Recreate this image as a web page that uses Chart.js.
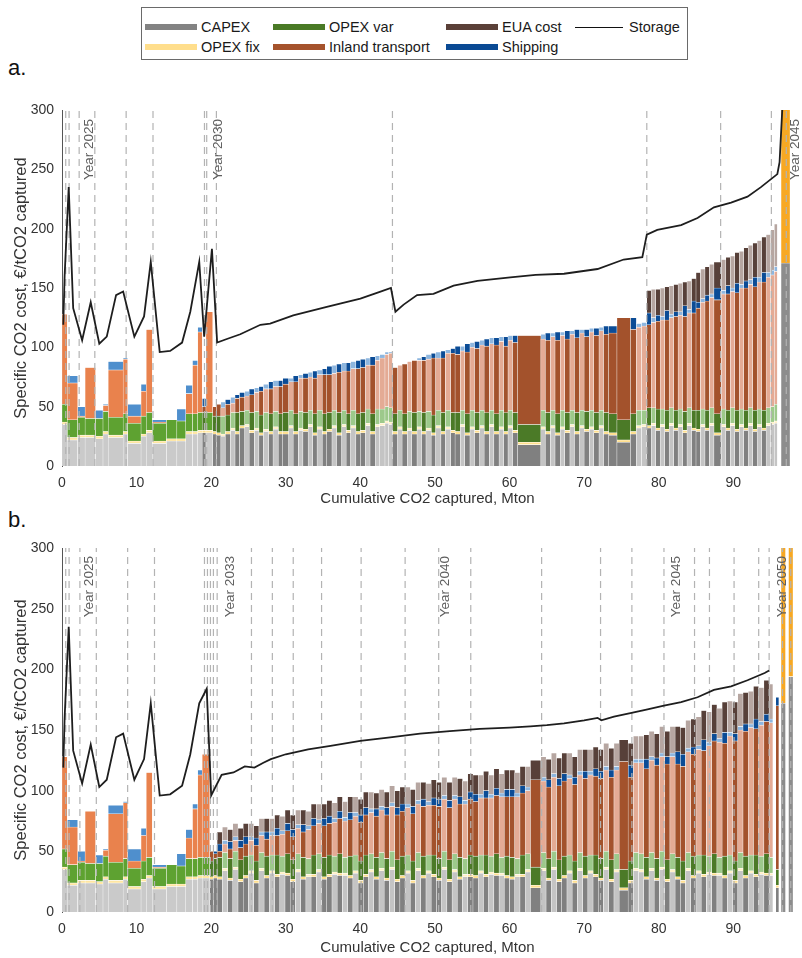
<!DOCTYPE html>
<html><head><meta charset="utf-8">
<script src="https://cdn.jsdelivr.net/npm/chart.js@4.4.1/dist/chart.umd.min.js"></script>
<style>
html,body{margin:0;padding:0;background:#fff;width:802px;height:958px;overflow:hidden;font-family:"Liberation Sans",Arial,sans-serif;}
#legend{position:absolute;left:141px;top:7px;width:547px;height:53px;border:1px solid #6a6a6a;box-sizing:border-box;background:#fff;}
.it{position:absolute;display:flex;align-items:center;height:16px;font-size:14.5px;color:#1a1a1a;white-space:nowrap;}
.sw{display:inline-block;width:52px;height:6px;margin-right:4px;}
.ln{display:inline-block;width:48px;height:0;border-top:1px solid #111;margin-right:6px;}
.plab{position:absolute;left:8px;font-size:22px;color:#111;}
#wa{position:absolute;left:0;top:90px;width:802px;height:420px;}
#wb{position:absolute;left:0;top:528px;width:802px;height:430px;}
</style></head>
<body>
<div id="legend">
 <div class="it" style="left:3px;top:11px"><span class="sw" style="background:#838383"></span>CAPEX</div>
 <div class="it" style="left:131px;top:11px"><span class="sw" style="background:#4a7a26"></span>OPEX var</div>
 <div class="it" style="left:304px;top:11px"><span class="sw" style="background:#5a4038"></span>EUA cost</div>
 <div class="it" style="left:433px;top:11px"><span class="ln"></span>Storage</div>
 <div class="it" style="left:3px;top:31px"><span class="sw" style="background:#ffde8c"></span>OPEX fix</div>
 <div class="it" style="left:131px;top:31px"><span class="sw" style="background:#a5532c"></span>Inland transport</div>
 <div class="it" style="left:304px;top:31px"><span class="sw" style="background:#0a4a94"></span>Shipping</div>
</div>
<div class="plab" style="top:55px">a.</div>
<div class="plab" style="top:507px">b.</div>
<div id="wa"><canvas id="ca" width="802" height="420"></canvas></div>
<div id="wb"><canvas id="cb" width="802" height="430"></canvas></div>
<script>
// ---------------- Panel a data ----------------
const aWidth = [0.7,1.4,1.0,1.4,1.0,0.7,2.0,0.6,1.8,0.7,0.8,1.9,1.4,1.2,0.9,0.7,0.6,0.5,0.9,0.5,
 0.6,0.6,0.7,0.6,0.6,0.7,0.6,0.7,0.6,0.6,0.7,0.6,0.7,0.6,0.8,0.6,0.7,0.6,0.7,0.6,
 0.6,0.7,0.6,0.7,0.6,0.7,0.6,0.6,0.7,0.6,0.7,0.6,0.7,0.6,0.7,0.5,0.5,
 0.7,0.6,0.7,0.6,0.7,0.6,0.6,0.7,0.6,0.7,0.6,0.7,0.6,0.7,0.6,0.7,0.6,0.7,0.6,0.7,0.6,0.7,0.6,0.6,0.6,0.7,
 3.1,
 0.6,0.7,0.6,0.7,0.6,0.7,0.6,0.7,0.6,0.7,0.6,0.7,0.6,0.7,1.1,1.8,0.8,0.7,0.7,
 0.6,0.6,0.6,0.6,0.6,0.6,0.6,0.6,0.6,0.6,0.6,0.6,0.6,0.6,0.6,
 1.0,
 0.6,0.6,0.6,0.6,0.6,0.6,0.6,0.6,0.6,0.6,0.6,
 0.5,0.4,0.5,1.2];
const aGroup = ("mmmmmmmmmmmmmmmmmdmd" + "dldlddldldldlddldldl" + "dlddldldlddldllll" +
 "dldldldldldld" + "dldldldldldld" + "d" + "ldldldldldldlddddll" +
 "dldldldldlddldl" + "d" + "ldldldldldl" + "lldx").split('');
const aCapex = [35,22,24,24,23,27,24,27,19,25,28,19,21,21,27,27,28,28,28,27,
 26,25,27,30,27,32,33,28,30,26,29,27,31,27,27,32,27,30,29,33,
 26,31,27,29,32,26,33,28,32,27,28,34,27,33,34,36,35,
 27,31,27,30,27,31,27,30,26,32,27,31,28,27,33,26,31,28,32,27,33,27,31,27,32,28,
 18,
 31,27,32,26,31,28,33,27,32,29,31,28,32,27,26,20,27,32,33,
 32,34,30,33,29,34,30,33,28,34,30,29,33,30,34,
 26,
 33,30,34,29,33,30,34,29,33,30,34,
 35,36,0,171];
const aOpexFix = [2,2,2,2,2,2,2,2,2,2,2,2,2,2,2,2,2,2,2,2,
 2,2,2,2,2,2,2,2,2,2,2,2,2,2,2,2,2,2,2,2,
 2,2,2,2,2,2,2,2,2,2,2,2,2,2,2,2,2,
 2,2,2,2,2,2,2,2,2,2,2,2,2,2,2,2,2,2,2,2,2,2,2,2,2,2,
 2,
 2,2,2,2,2,2,2,2,2,2,2,2,2,2,2,2,2,2,2,
 2,2,2,2,2,2,2,2,2,2,2,2,2,2,2,
 2,
 2,2,2,2,2,2,2,2,2,2,2,
 2,2,0,150];
const aOpexVar = [15,15,15,14,15,17,15,15,15,15,15,15,16,15,15,15,15,15,15,13,
 14,15,14,13,16,12,12,15,14,15,14,15,13,15,16,13,15,14,14,12,
 16,14,15,14,13,17,12,14,13,15,15,12,15,13,12,12,12,
 15,14,15,14,16,13,16,14,15,13,16,14,15,16,12,16,14,15,13,16,12,15,14,16,13,15,
 15,
 14,16,13,16,14,15,12,16,13,15,14,15,13,16,16,17,15,13,12,
 15,13,16,13,16,13,15,13,16,13,15,16,13,15,13,
 16,
 13,15,13,16,13,15,13,16,13,15,13,
 13,14,0,0];
const aInland = [76,31,1,43,0,5,40,46,6,21,70,1,0,0,17,41,68,5,85,8,
 10,7,9,8,12,12,12,15,16,20,20,21,21,23,24,24,27,28,29,28,
 30,30,33,32,31,34,33,36,35,38,38,37,41,41,43,44,46,
 39,38,42,42,44,43,44,44,48,44,46,48,50,49,50,52,53,54,55,56,56,58,58,56,59,59,
 75,
 60,61,62,62,63,62,64,63,65,63,66,65,67,66,68,86,71,70,71,
 70,72,74,75,76,76,79,79,80,80,82,86,90,92,93,
 96,
 97,98,98,99,102,103,104,104,107,108,110,
 111,112,0,0];
const aShipping = [0,6,8,0,7,1,7,1,10,6,0,2,0,10,7,4,4,7,0,0,
 0,5,4,5,3,4,4,5,4,4,4,6,5,5,5,3,5,3,4,4,
 6,4,5,7,7,7,7,7,6,7,7,6,7,4,3,2,1,
 0,0,0,0,0,2,3,4,4,5,6,3,4,7,4,7,4,6,4,6,5,6,4,8,4,6,
 0,
 4,6,3,7,3,7,3,7,3,6,3,6,3,7,6,0,10,3,3,
 10,4,5,3,8,3,4,3,9,3,10,5,3,5,3,
 10,
 3,7,3,8,3,6,4,8,4,8,4,
 4,4,0,0];
const aEua = [0,0,0,0,0,0,0,0,0,0,0,0,0,0,0,0,0,0,0,0,
 0,0,0,0,0,0,0,0,0,0,0,0,0,0,0,0,0,0,0,0,
 0,0,0,0,0,0,0,0,0,0,0,0,0,0,0,0,0,
 0,0,0,0,0,0,0,0,0,0,0,0,0,0,0,0,0,0,0,0,0,0,0,0,0,0,
 0,
 0,0,0,0,0,0,0,0,0,0,0,0,0,0,0,0,0,0,0,
 19,24,22,24,20,24,23,24,20,24,19,25,25,24,25,
 22,
 26,24,27,26,28,28,29,29,31,30,32,
 34,36,0,0];
const aStorageX = [0.17,0.35,0.9,1.5,2.7,3.85,5.0,6.0,7.25,8.2,9.7,11.0,11.9,13.1,14.5,16.1,17.2,18.4,19.06,20.1,20.8,22.1,23.9,26.6,27.9,31.0,35.5,40.0,42.7,44.1,44.7,45.8,47.6,49.8,52.5,55.7,60.1,63.5,67.3,71.8,75.3,77.8,78.4,79.8,83.0,85.2,87.4,89.7,91.9,93.7,95.9,96.2,96.6];
const aStorageY = [119,160,235,133,106,138,103,109,144,147,109,126,172,96,97,104,130,172,109,183,104,107,111,119,120,127,134,141,147,150,130,136,144,145,152,156,159,161,162,166,174,176,195,199,203,209,218,222,227,235,246,256,305];
const aYearLines = [0.5,0.95,2.3,4.4,8.6,12.2,19.1,19.4,20.7,44.3,78.4,88.3,95.1,97.1];
const aYearLabelX = [3.6,20.9,98.3];
const aYearLabel = ['Year 2025','Year 2030','Year 2045'];

// ---------------- Panel b data ----------------
const bWidth = [0.7,1.4,1.0,1.4,1.0,0.7,2.0,0.6,1.8,0.7,0.8,1.9,1.4,1.2,0.9,0.7,0.6,1.0,0.5,0.5,
 0.7,0.7,0.7,0.7,0.7,0.7,0.7,0.7,0.7,0.7, 0.7,0.7,0.7,0.7,0.7,0.7,0.7,0.7,0.7,0.7,
 0.7,0.7,0.7,0.7,0.7,0.7,0.7,0.7,0.7,0.7, 0.7,0.7,0.7,0.7,0.7,0.7,0.7,0.7,0.7,0.7,
 0.7,0.7,0.7,0.7,0.7,0.7,0.7,0.7,0.7,0.7, 0.7,0.7,0.7,0.7,0.7,0.7,0.7,0.7,0.7,0.7,
 1.4,0.7,0.7,0.7,0.7,0.7,0.7,0.7,0.7,0.7, 0.7,0.7,0.7,0.7,0.7,0.7,1.2,0.7,0.7,0.7,
 0.7,0.7,0.7,0.7,0.7,0.7,0.7,0.7,0.7,0.7, 0.7,0.7,0.7,0.7,0.7,0.7,0.7,0.7,0.7,0.7,
 0.7,0.7,0.7,0.7,0.5, 0.4,0.4,0.3,0.6,0.4,0.6];
const bGroup = ("mmmmmmmmmmmmmmmmmmdd" + "dldlddldld" + "ldlddldldl" + "ddldldlddl" + "dldlddldld" +
 "lddldldldd" + "ldldlddldl" + "dldlddldld" + "lddldlddll" + "dldldlddld" + "ldldldldld" +
 "ldldl" + "dddxdx").split('');
const bCapex = [35,22,24,24,23,27,24,27,19,25,28,19,21,21,27,27,28,28,27,28,
 27,34,26,35,25,28,32,24,34,28, 32,29,31,30,25,33,27,29,29,33,
 27,29,31,30,30,28,32,24,29,33, 27,34,26,35,25,28,32,24,34,28,
 32,29,26,35,25,33,27,29,29,28, 32,29,31,30,30,28,27,29,29,33,
 20,34,26,35,25,28,32,24,34,28, 32,29,26,35,25,33,18,24,34,33,
 27,34,26,35,25,33,27,24,34,28, 32,29,31,30,30,28,32,24,34,28,
 32,29,31,30,30, 0,20,0,172,0,194];
const bOpexFix = [2,2,2,2,2,2,2,2,2,2,2,2,2,2,2,2,2,2,2,2,
 2,2,2,2,2,2,2,2,2,2, 2,2,2,2,2,2,2,2,2,2,
 2,2,2,2,2,2,2,2,2,2, 2,2,2,2,2,2,2,2,2,2,
 2,2,2,2,2,2,2,2,2,2, 2,2,2,2,2,2,2,2,2,2,
 2,2,2,2,2,2,2,2,2,2, 2,2,2,2,2,2,2,2,2,2,
 2,2,2,2,2,2,2,2,2,2, 2,2,2,2,2,2,2,2,2,2,
 2,2,2,2,2, 0,2,0,150,0,120];
const bOpexVar = [15,15,15,14,15,17,15,15,15,15,15,15,16,15,15,15,15,15,13,14,
 16,13,16,13,16,16,13,16,13,16, 13,16,13,16,16,13,16,13,16,13,
 16,16,13,16,13,16,13,16,16,13, 16,13,16,13,16,16,13,16,13,16,
 13,16,16,13,16,13,16,13,16,16, 13,16,13,16,13,16,16,13,16,13,
 15,13,16,13,16,16,13,16,13,16, 13,16,16,13,16,13,15,16,13,13,
 16,13,16,13,16,13,16,16,13,16, 13,16,13,16,13,16,13,16,13,16,
 13,16,13,16,13, 0,13,0,0,0,0];
const bInland = [76,31,1,43,0,5,40,46,6,21,70,1,0,0,17,41,68,85,8,4,
 5,7,8,9,10,10,12,13,14,14, 16,16,18,19,19,21,21,24,24,25,
 26,26,28,29,30,30,32,32,33,34, 34,35,36,37,37,37,39,39,40,41,
 41,41,43,43,43,45,44,45,46,45, 47,47,48,48,50,49,50,51,51,52,
 72,59,59,61,61,62,63,63,64,64, 66,65,66,67,68,69,89,69,74,75,
 73,76,77,78,79,80,77,78,83,84, 87,86,91,93,95,93,98,99,101,103,
 105,104,108,109,111, 0,135,0,0,0,0];
const bShipping = [0,6,8,0,7,1,7,1,10,6,0,2,0,10,7,4,4,0,0,2,
 6,3,6,3,6,6,3,6,3,6, 3,6,3,6,6,3,6,3,6,3,
 6,6,3,6,3,6,3,6,6,3, 6,3,6,3,6,6,3,6,3,6,
 3,6,6,3,6,3,6,3,6,6, 3,6,3,6,3,6,6,3,6,3,
 0,3,6,3,6,6,3,6,3,6, 3,6,6,3,6,3,0,10,3,3,
 8,3,6,3,6,3,10,10,3,6, 3,9,3,6,3,9,3,6,3,6,
 3,8,3,6,3, 0,7,0,0,0,0];
const bEua = [0,0,0,0,0,0,0,0,0,0,0,0,0,0,0,0,0,0,0,0,
 10,11,10,11,10,11,11,10,11,11, 11,11,12,11,12,12,12,12,12,13,
 12,13,13,12,13,13,13,13,13,14, 13,14,13,14,14,14,14,14,15,14,
 15,15,14,15,15,15,15,16,15,16, 16,16,16,16,16,16,16,17,16,17,
 16,17,17,17,17,17,18,17,18,18, 18,18,18,19,18,19,18,18,19,19,
 20,21,20,22,21,22,21,22,23,23, 24,24,25,24,25,25,26,26,27,26,
 27,27,28,28,29, 0,0,0,0,0,0];
const bStorageX = [0.17,0.35,0.9,1.5,2.7,3.85,5.0,6.0,7.25,8.2,9.7,11.0,11.9,13.1,14.5,16.1,17.2,18.4,19.4,20.0,21.4,23.0,24.5,25.8,27.0,28.0,30,33,36,40,44,48,52,56,60,62.8,65,67.3,70,71.8,72.3,74,76.2,78.5,80.7,83,85.2,87.4,89.7,91.9,94.2,94.8];
const bStorageY = [119,160,235,133,106,138,103,109,144,147,109,126,172,96,97,104,130,172,184,96,113,115,120,119,123,126,130,134,137,141,144,147,149,151,152,153,154,155.5,158,160,158,161,164,167,170,173,177,183,186,191,197,199];
const bYearLines = [0.5,0.95,2.4,4.6,8.8,12.4,19.1,19.5,19.9,20.3,20.8,25.4,28.2,31.0,34.8,40.1,46.0,50.5,54.8,64.3,72.2,76.4,80.7,84.8,86.8,90.1,93.4,94.8,96.6,97.7];
const bYearLabelX = [3.7,22.5,51.4,82.3,96.6];
const bYearLabel = ['Year 2025','Year 2033','Year 2040','Year 2045','Year 2050'];

// ---------------- styling ----------------
const FONT = '"Liberation Sans", Arial, Helvetica, sans-serif';
const COLORS = {
  capex:  {d:'#808080', l:'#c4c4c4', m:'#cacaca', x:'#8c8c8c'},
  fix:    {d:'#ffdf8e', l:'#fff0c6', m:'#ffe6a2', x:'#f7a823'},
  var:    {d:'#4b7a27', l:'#9dc98b', m:'#5ea231', x:'#4b7a27'},
  inland: {d:'#a3522c', l:'#e4ab95', m:'#e9824d', x:'#a3522c'},
  ship:   {d:'#0b4c96', l:'#8db6df', m:'#4f8fcd', x:'#0b4c96'},
  eua:    {d:'#574039', l:'#b6a6a1', m:'#574039', x:'#574039'}
};
const NAMES = {capex:'CAPEX', fix:'OPEX fix', var:'OPEX var', inland:'Inland transport', ship:'Shipping', eua:'EUA cost'};

function buildChart(canvas, P) {
  const n = P.width.length;
  const edges = [0];
  for (let i = 0; i < n; i++) edges.push(edges[i] + P.width[i]);
  const comps = [['capex',P.capex],['fix',P.fix],['var',P.var],['inland',P.inland],['ship',P.ship],['eua',P.eua]];
  const datasets = comps.map(([key, vals]) => {
    const data = [], bg = [];
    for (let i = 0; i < n; i++) {
      data.push({x: edges[i], y: null}); bg.push('rgba(0,0,0,0)');
      data.push({x: (edges[i] + edges[i+1]) / 2, y: vals[i]}); bg.push(COLORS[key][P.group[i]]);
    }
    data.push({x: edges[n], y: null}); bg.push('rgba(0,0,0,0)');
    return {type:'bar', label:NAMES[key], data, backgroundColor:bg, borderColor:'rgba(255,255,255,0.95)',
      borderWidth:{left:0.5,right:0.5,top:0.6,bottom:0}, borderSkipped:false,
      stack:'cost', order:3, barThickness:'flex', categoryPercentage:2, barPercentage:1};
  });
  const dash = [];
  P.years.forEach(v => { dash.push({x:v,y:0}); dash.push({x:v,y:300}); dash.push({x:v,y:null}); });
  datasets.push({type:'line', label:'year', data:dash, borderColor:'#b3b3b3', borderWidth:1.2,
    borderDash:[7,5], pointRadius:0, fill:false, spanGaps:false, stack:'dash', order:2});
  datasets.push({type:'line', label:'Storage', data:P.lineX.map((x,i)=>({x, y:P.lineY[i]})),
    borderColor:'#1e1e1e', borderWidth:1.8, pointRadius:0, fill:false, tension:0, stack:'storage', order:1});

  const yearPlugin = {
    id:'yearLabels',
    afterDatasetsDraw(chart) {
      const ctx = chart.ctx, xs = chart.scales.x, ys = chart.scales.y;
      ctx.save();
      ctx.font = '13.5px ' + FONT;
      ctx.fillStyle = '#5f5f5f';
      ctx.textAlign = 'left';
      ctx.textBaseline = 'middle';
      P.labelX.forEach((x, i) => {
        ctx.save();
        ctx.translate(xs.getPixelForValue(x), ys.getPixelForValue(P.labelY));
        ctx.rotate(-Math.PI / 2);
        ctx.fillText(P.labels[i], 0, 0);
        ctx.restore();
      });
      ctx.restore();
    }
  };

  return new Chart(canvas, {
    data: {datasets},
    options: {
      responsive:false, animation:false, devicePixelRatio:1,
      layout:{padding:{top:20, right:9, left:0, bottom:0}},
      plugins:{legend:{display:false}, tooltip:{enabled:false}},
      scales:{
        x:{type:'linear', min:0, max:98, offset:false,
          grid:{display:false, drawTicks:false, offset:false}, border:{display:false},
          ticks:{stepSize:10, includeBounds:false, padding:9, maxRotation:0, autoSkip:false,
            font:{size:14, family:FONT}, color:'#333'},
          title:{display:true, text:'Cumulative CO2 captured, Mton', font:{size:15, family:FONT}, color:'#333',
            padding:{top:0, bottom:P.titlePad}},
          afterFit(s){ s.height = P.xh; }},
        y:{stacked:true, min:0, max:300,
          grid:{display:false, drawTicks:false}, border:{display:true, color:'#555', width:1},
          ticks:{stepSize:50, padding:8, font:{size:14, family:FONT}, color:'#333'},
          title:{display:true, text:'Specific CO2 cost, €/tCO2 captured', font:{size:16.5, family:FONT}, color:'#333',
            padding:{top:12, bottom:0}},
          afterFit(s){ s.width = 62; }}
      }
    },
    plugins:[yearPlugin]
  });
}

buildChart(document.getElementById('ca'), {
  width:aWidth, group:aGroup, capex:aCapex, fix:aOpexFix, var:aOpexVar, inland:aInland, ship:aShipping, eua:aEua,
  lineX:aStorageX, lineY:aStorageY, years:aYearLines, labelX:aYearLabelX, labels:aYearLabel, labelY:241,
  xh:44, titlePad:2});
buildChart(document.getElementById('cb'), {
  width:bWidth, group:bGroup, capex:bCapex, fix:bOpexFix, var:bOpexVar, inland:bInland, ship:bShipping, eua:bEua,
  lineX:bStorageX, lineY:bStorageY, years:bYearLines, labelX:bYearLabelX, labels:bYearLabel, labelY:243,
  xh:46, titlePad:1});
</script>
</body></html>
